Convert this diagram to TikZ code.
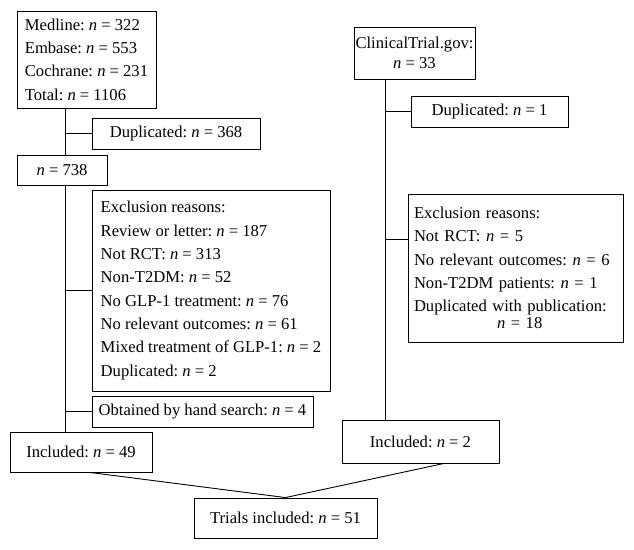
\documentclass[tikz,border=0pt]{standalone}
\usepackage{fontspec}
\setmainfont{Liberation Serif}
\usetikzlibrary{calc}
\newcommand{\nn}{\textit{n}}
\frenchspacing
\begin{document}
\begin{tikzpicture}[x=1pt,y=-1pt,
  box/.style={draw, line width=0.9pt, inner xsep=0pt, inner ysep=0pt, font=\fontsize{16.6}{23.3}\selectfont\frenchspacing},
  link/.style={line width=0.9pt}]
\useasboundingbox[fill=white] (0,0) rectangle (634,549);

\node[box, minimum width=139pt, minimum height=97pt, align=left] (src1) at (86.5,59.5)
  {Medline: \nn{} = 322\\Embase: \nn{} = 553\\Cochrane: \nn{} = 231\\Total: \nn{} = 1106};
\node[box, minimum width=168pt, minimum height=31pt] (dup1) at (176,133.5) {Duplicated: \nn{} = 368};
\node[box, minimum width=90pt, minimum height=30pt] (n738) at (62,170) {\nn{} = 738};
\node[box, minimum width=238pt, minimum height=201pt, align=left] (excl1) at (211,290.5)
  {Exclusion reasons:\\Review or letter: \nn{} = 187\\Not RCT: \nn{} = 313\\Non-T2DM: \nn{} = 52\\No GLP-1 treatment: \nn{} = 76\\No relevant outcomes: \nn{} = 61\\Mixed treatment of GLP-1: \nn{} = 2\\Duplicated: \nn{} = 2};
\node[box, minimum width=221pt, minimum height=31pt] (obt) at (202.5,411.5) {Obtained by hand search: \nn{} = 4};
\node[box, minimum width=142pt, minimum height=40pt] (inc1) at (81,452) {Included: \nn{} = 49};
\node[box, minimum width=183pt, minimum height=40pt] (trials) at (285.5,518) {Trials included: \nn{} = 51};
\node[box, minimum width=121pt, minimum height=52pt, align=center, font=\fontsize{16.6}{20}\selectfont\frenchspacing] (ct) at (414.5,53)
  {ClinicalTrial.gov:\\\nn{} = 33};
\node[box, minimum width=157pt, minimum height=31pt] (dup2) at (489.5,111.5) {Duplicated: \nn{} = 1};
\node[box, minimum width=215pt, minimum height=148pt, text width=203pt, align=left] (excl2) at (515.5,268)
  {Exclusion reasons:\\Not RCT: \nn{} = 5\\No relevant outcomes: \nn{} = 6\\Non-T2DM patients: \nn{} = 1\\Duplicated with publication:\\[-6.5pt]\hspace*{83pt}\nn{} = 18};
\node[box, minimum width=157pt, minimum height=43pt] (inc2) at (420.5,441.5) {Included: \nn{} = 2};

\coordinate (tl) at (65,0);
\coordinate (tr) at (385,0);
\coordinate (b2) at (385,239);
\draw[link] (src1.south -| tl) -- (n738.north -| tl);
\draw[link] (n738.south -| tl) -- (inc1.north -| tl);
\draw[link] (dup1.west -| tl) -- (dup1.west);
\draw[link] (excl1.west -| tl) -- (excl1.west);
\draw[link] (obt.west -| tl) -- (obt.west);
\draw[link] (ct.south -| tr) -- (inc2.north -| tr);
\draw[link] (dup2.west -| tr) -- (dup2.west);
\draw[link] (b2) -- (b2 -| excl2.west);
\draw[link] ($(inc1.south)+(9,0)$) -- (trials.north);
\draw[link] ($(inc2.south)+(23.5,0)$) -- (trials.north);
\end{tikzpicture}
\end{document}
